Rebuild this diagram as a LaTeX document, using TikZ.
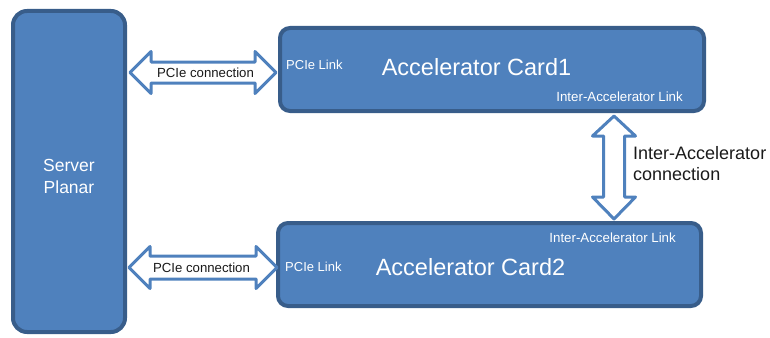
\documentclass[tikz,border=0pt]{standalone}
\usepackage{fontspec}
\setmainfont{Liberation Sans}
\definecolor{boxfill}{HTML}{4F81BD}
\definecolor{boxline}{HTML}{385D8A}
\definecolor{arrline}{HTML}{4F81BD}
\definecolor{darktext}{HTML}{1A1A1A}
\begin{document}
\begin{tikzpicture}[x=1pt,y=-1pt,
  box/.style={draw=boxline, fill=boxfill, line width=4pt, rounded corners=#1, inner sep=0pt},
  box/.default=10pt,
  blockarrow/.style={draw=arrline, fill=white, line width=3pt, line join=round},
  wtext/.style={text=white, inner sep=0pt},
  ktext/.style={text=darktext, inner sep=0pt}]
\useasboundingbox (0,0) rectangle (770,337);

% boxes
\node[box=14pt, minimum width=112pt, minimum height=321pt] (server) at (69,171.5) {};
\node[box, minimum width=424pt, minimum height=83pt] (card1) at (492,69.5) {};
\node[box, minimum width=423pt, minimum height=83pt] (card2) at (489.5,264.5) {};

% texts in boxes
\node[wtext, align=center, font=\fontsize{17.5}{22}\selectfont] (servertxt) at (69,176) {Server\\Planar};
\node[wtext, font=\fontsize{23.5}{27}\selectfont] (c1title) at (476.5,67) {Accelerator Card1};
\node[wtext, anchor=west, font=\fontsize{13}{15}\selectfont] (c1pcie) at (286,65) {PCIe Link};
\node[wtext, anchor=east, font=\fontsize{13.3}{15}\selectfont] (c1inter) at (683,97) {Inter-Accelerator Link};
\node[wtext, font=\fontsize{23.5}{27}\selectfont] (c2title) at (470.5,267) {Accelerator Card2};
\node[wtext, anchor=west, font=\fontsize{13}{15}\selectfont] (c2pcie) at (285,267) {PCIe Link};
\node[wtext, anchor=east, font=\fontsize{13.3}{15}\selectfont] (c2inter) at (676,238) {Inter-Accelerator Link};

% block arrows
\draw[blockarrow] (130,72.5) -- (151,51.5) -- (151,62) -- (255,62) -- (255,51.5) -- (276,72.5)
  -- (255,93.5) -- (255,83) -- (151,83) -- (151,93.5) -- cycle;
\draw[blockarrow] (129,267.5) -- (150,246.5) -- (150,256) -- (256,256) -- (256,246.5) -- (277,267.5)
  -- (256,288.5) -- (256,279) -- (150,279) -- (150,288.5) -- cycle;
\draw[blockarrow] (614,116) -- (635.5,136) -- (624.5,136) -- (624.5,197) -- (635.5,197) -- (614,219)
  -- (592.5,197) -- (603.5,197) -- (603.5,136) -- (592.5,136) -- cycle;

% arrow labels
\node[ktext, font=\fontsize{13.2}{15}\selectfont] (pcie1) at (205.5,73) {PCIe connection};
\node[ktext, font=\fontsize{13.2}{15}\selectfont] (pcie2) at (201.5,267.5) {PCIe connection};
\node[ktext, anchor=west, align=left, font=\fontsize{18}{21}\selectfont] (interconn) at (633,163.5) {Inter-Accelerator\\connection};
\end{tikzpicture}
\end{document}
